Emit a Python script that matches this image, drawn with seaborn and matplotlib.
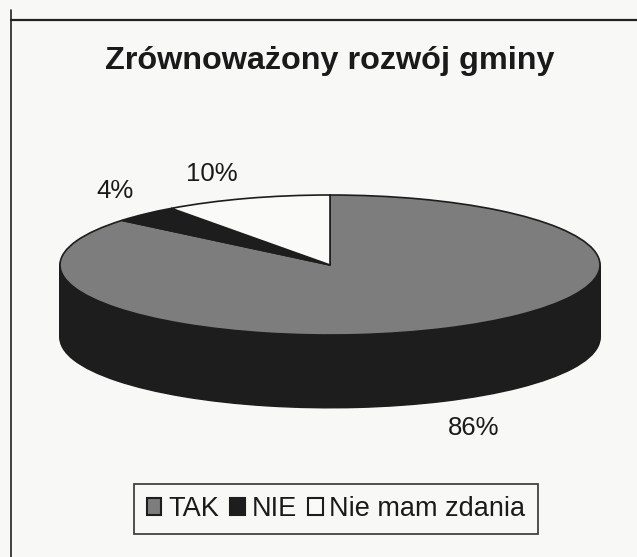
import numpy as np
import matplotlib
matplotlib.use("Agg")
import matplotlib.pyplot as plt
from matplotlib.lines import Line2D
import seaborn as sns

# values
categories = ["TAK", "NIE", "Nie mam zdania"]
shares = [86, 4, 10]
share_labels = ["86%", "4%", "10%"]
title = "Zrównoważony rozwój gminy"

top_colors = ["#7d7d7d", "#1d1d1d", "#fafaf8"]
side_color = "#1d1d1d"
paper = "#f8f8f6"

sns.set_theme(style="white")
plt.rcParams["font.family"] = ["Liberation Sans", "DejaVu Sans"]

W, H = 637, 557
fig = plt.figure(figsize=(W / 100, H / 100), dpi=100, facecolor=paper)

# axes placed so that radius 1 is 270 px wide and 70 px high
ax = fig.add_axes([60 / W, 1 - 475 / H, 540 / W, 350 / H])
ax.patch.set_alpha(0)

# side of the cylinder: same pie stacked downwards
for depth in np.linspace(1.04, 0.02, 60):
    ax.pie(shares, center=(0, -depth), radius=1, startangle=90, counterclock=False,
           colors=[side_color] * 3, frame=True,
           wedgeprops=dict(edgecolor=side_color, linewidth=1.0))

wedges, _ = ax.pie(shares, center=(0, 0), radius=1, startangle=90, counterclock=False,
                   colors=top_colors, frame=True,
                   wedgeprops=dict(edgecolor="#1d1d1d", linewidth=1.2))
ax.set_aspect("auto")
ax.set_xlim(-1, 1)
ax.set_ylim(-3, 2)
ax.set_xticks([])
ax.set_yticks([])
for s in ax.spines.values():
    s.set_visible(False)

# title and percent labels
fig.text(330 / W, 1 - 61 / H, title, ha="center", va="center", fontsize=23.3,
         fontweight="bold", color="#1a1a1a")
label_pos = [(474, 428), (115, 191), (212, 174)]
for txt, (px, py) in zip(share_labels, label_pos):
    fig.text(px / W, 1 - py / H, txt, ha="center", va="center", fontsize=18.5, color="#1a1a1a")

# legend box
leg = fig.legend(wedges, categories, ncol=3, loc="center", bbox_to_anchor=(336 / W, 1 - 509 / H),
                 fontsize=19.5, frameon=True, fancybox=False, edgecolor="#333333",
                 facecolor=paper, framealpha=1, labelcolor="#1a1a1a",
                 handlelength=0.55, handleheight=0.55,
                 handletextpad=0.25, columnspacing=0.4, borderpad=0.45)
leg.get_frame().set_linewidth(1.2)
for h in leg.legend_handles:
    h.set_edgecolor("#1d1d1d")
    h.set_linewidth(1.5)

# scanned page frame
fig.add_artist(Line2D([11 / W, 1], [1 - 20 / H, 1 - 20 / H], color="#222222", lw=1.6))
fig.add_artist(Line2D([11 / W, 11 / W], [1 - 10 / H, 0], color="#222222", lw=1.2))

fig.savefig("out.png", dpi=100, facecolor=paper)
